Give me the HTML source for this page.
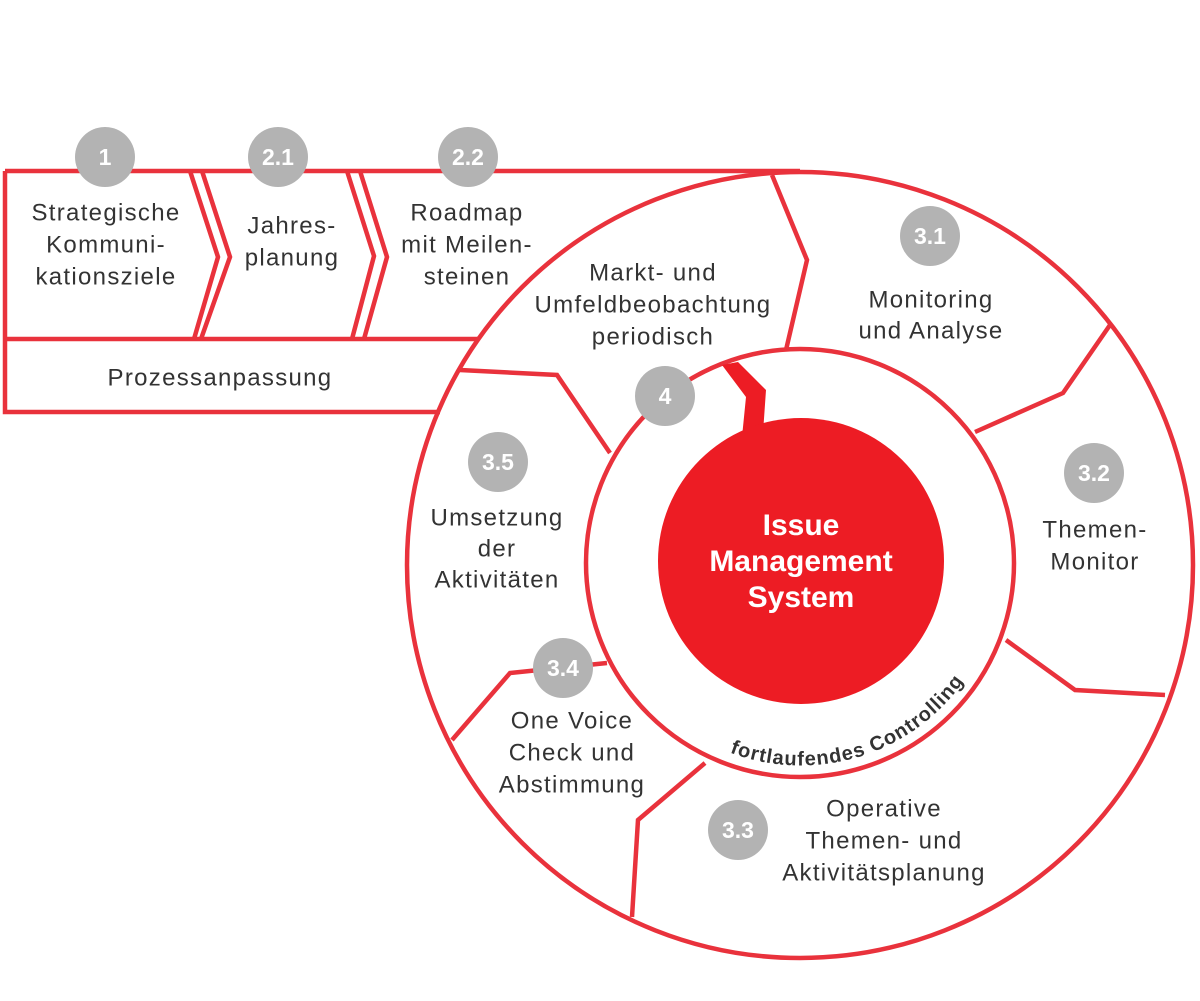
<!DOCTYPE html>
<html><head><meta charset="utf-8"><style>
html,body{margin:0;padding:0;background:#fff}
svg{display:block}
text{font-family:"Liberation Sans",sans-serif}
.t{font-size:24px;letter-spacing:1.3px;fill:#333;text-anchor:middle;dominant-baseline:central}
.b{font-size:23px;fill:#fff;font-weight:bold;text-anchor:middle;dominant-baseline:central}
</style></head><body>
<svg width="1200" height="1001" viewBox="0 0 1200 1001" xmlns="http://www.w3.org/2000/svg">
<defs>
<path id="arc" d="M 680 725 A 200 200 0 0 0 990 630"/>
</defs>
<g fill="none" stroke="#e9323c" stroke-width="4.5" stroke-linejoin="miter">
  <path d="M5 171 L800 171"/>
  <path d="M5 171 L5 412 L440 412"/>
  <path d="M5 339 L478 339"/>
  <path d="M190 171 L218 257 L194 339"/>
  <path d="M202 171 L230 257 L201 339"/>
  <path d="M347 171 L374 256 L352 339"/>
  <path d="M360 171 L387 257 L364 339"/>
  <circle cx="800" cy="565" r="393"/>
  <circle cx="800" cy="563" r="214"/>
  <path d="M772 175 L807 260 L786 350"/>
  <path d="M460 370 L557 375 L610 453"/>
  <path d="M452 740 L510 673 L607 663"/>
  <path d="M705 763 L638 820 L632 917"/>
  <path d="M1110 325 L1063 393 L975 432"/>
  <path d="M1006 640 L1075 690 L1165 695"/>
</g>
<polygon points="722,365 738,362 766,390 763,433 742,437 746,397" fill="#ed1c24"/>
<circle cx="801" cy="561" r="143" fill="#ed1c24"/>
<g fill="#b3b3b3">
  <circle cx="105" cy="157" r="30"/>
  <circle cx="278" cy="157" r="30"/>
  <circle cx="468" cy="157" r="30"/>
  <circle cx="930" cy="236" r="30"/>
  <circle cx="1094" cy="473" r="30"/>
  <circle cx="738" cy="830" r="30"/>
  <circle cx="563" cy="668" r="30"/>
  <circle cx="498" cy="462" r="30"/>
  <circle cx="665" cy="396" r="30"/>
</g>
<text class="b" x="105" y="157">1</text>
<text class="b" x="278" y="157">2.1</text>
<text class="b" x="468" y="157">2.2</text>
<text class="b" x="930" y="236">3.1</text>
<text class="b" x="1094" y="473">3.2</text>
<text class="b" x="738" y="830">3.3</text>
<text class="b" x="563" y="668">3.4</text>
<text class="b" x="498" y="462">3.5</text>
<text class="b" x="665" y="396">4</text>

<text class="t" x="106" y="213">Strategische</text>
<text class="t" x="106" y="245">Kommuni-</text>
<text class="t" x="106" y="277">kationsziele</text>
<text class="t" x="292" y="226">Jahres-</text>
<text class="t" x="292" y="258">planung</text>
<text class="t" x="467" y="213">Roadmap</text>
<text class="t" x="467" y="245">mit Meilen-</text>
<text class="t" x="467" y="277">steinen</text>
<text class="t" x="220" y="378">Prozessanpassung</text>
<text class="t" x="653" y="273">Markt- und</text>
<text class="t" x="653" y="305">Umfeldbeobachtung</text>
<text class="t" x="653" y="337">periodisch</text>
<text class="t" x="931" y="300">Monitoring</text>
<text class="t" x="931" y="331">und Analyse</text>
<text class="t" x="1095" y="530">Themen-</text>
<text class="t" x="1095" y="562">Monitor</text>
<text class="t" x="884" y="809">Operative</text>
<text class="t" x="884" y="841">Themen- und</text>
<text class="t" x="884" y="873">Aktivitätsplanung</text>
<text class="t" x="572" y="721">One Voice</text>
<text class="t" x="572" y="753">Check und</text>
<text class="t" x="572" y="785">Abstimmung</text>
<text class="t" x="497" y="518">Umsetzung</text>
<text class="t" x="497" y="549">der</text>
<text class="t" x="497" y="580">Aktivitäten</text>

<text x="0" y="0" style="font-size:30px;font-weight:bold;fill:#fff;text-anchor:middle;dominant-baseline:central"><tspan x="801" y="525">Issue</tspan><tspan x="801" y="561">Management</tspan><tspan x="801" y="597">System</tspan></text>
<text style="font-size:20px;letter-spacing:1px;font-weight:bold;fill:#333;text-anchor:middle"><textPath href="#arc" startOffset="50%">fortlaufendes Controlling</textPath></text>
</svg>
</body></html>
